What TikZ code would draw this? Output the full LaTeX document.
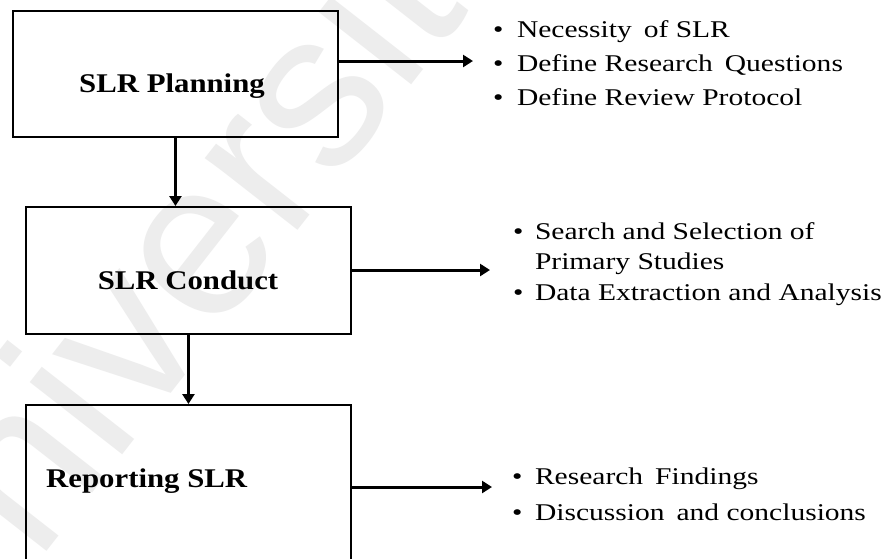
\documentclass[tikz,border=0pt]{standalone}
\usepackage{fontspec}
\setmainfont{Liberation Serif}
\newfontfamily\itemfont{Liberation Serif}[FakeStretch=1.23]
\newfontfamily\headfont{Liberation Serif}[FakeStretch=1.14]
\newfontfamily\markfont{Liberation Sans}
\usetikzlibrary{arrows.meta}

\tikzset{
  stage/.style={draw, line width=1.9pt, inner sep=0pt, anchor=north west},
  stagetext/.style={font=\headfont\fontsize{27}{30}\selectfont\bfseries, inner sep=0pt},
  flow/.style={line width=3pt, -{Triangle[length=10pt,width=12pt]}},
  bullets/.style={inner sep=0pt, anchor=base west},
  watermark/.style={font=\markfont\fontsize{222}{222}\selectfont, text=black!7, inner sep=0pt}
}

\newcommand{\wsp}{\hspace{0.5em}}

\begin{document}
\begin{tikzpicture}[x=1pt, y=-1pt]
  \useasboundingbox (0,0) rectangle (893,558);
  \clip (0,0) rectangle (893,558);
  \fill[white] (0,0) rectangle (893,558);

  % faint background watermark
  \node[watermark, anchor=base west, rotate=52] (mark) at (-61,690) {Universiti};

  % the three stages
  \node[stage, minimum width=325pt, minimum height=126pt] (b1) at (12,10) {};
  \node[stage, minimum width=325pt, minimum height=127pt] (b2) at (25,206) {};
  \node[stage, minimum width=325pt, minimum height=220pt] (b3) at (25,404) {};

  \node[stagetext, anchor=base] (t1) at (172,92.5) {SLR Planning};
  \node[stagetext, anchor=base] (t2) at (188,289) {SLR Conduct};
  \node[stagetext, anchor=base west] (t3) at (46,487) {Reporting SLR};

  % activities of each stage
  \node[bullets, font=\itemfont\fontsize{24}{34}\selectfont] (l1) at (493,37)
    {\begin{tabular}[t]{@{}l@{\hspace{13.5pt}}l@{}}
      • & Necessity\wsp of SLR\\
      • & Define Research\wsp Questions\\
      • & Define Review Protocol
    \end{tabular}};
  \node[bullets, font=\itemfont\fontsize{24}{30.5}\selectfont] (l2) at (513,239)
    {\begin{tabular}[t]{@{}l@{\hspace{11.5pt}}l@{}}
      • & Search and Selection of\\
        & Primary Studies\\
      • & Data Extraction and Analysis
    \end{tabular}};
  \node[bullets, font=\itemfont\fontsize{24}{36}\selectfont] (l3) at (512,484)
    {\begin{tabular}[t]{@{}l@{\hspace{12.5pt}}l@{}}
      • & Research\wsp Findings\\
      • & Discussion\wsp and conclusions
    \end{tabular}};

  % arrow ends
  \coordinate (p1) at (473,61);
  \coordinate (p2) at (490,270);
  \coordinate (p3) at (492,487);

  % connectors
  \draw[flow] (b1.south) -- (b1.south |- b2.north);
  \draw[flow] (b2.south) -- (b2.south |- b3.north);
  \draw[flow] (b1.east |- p1) -- (p1);
  \draw[flow] (b2.east |- p2) -- (p2);
  \draw[flow] (b3.east |- p3) -- (p3);
\end{tikzpicture}
\end{document}
